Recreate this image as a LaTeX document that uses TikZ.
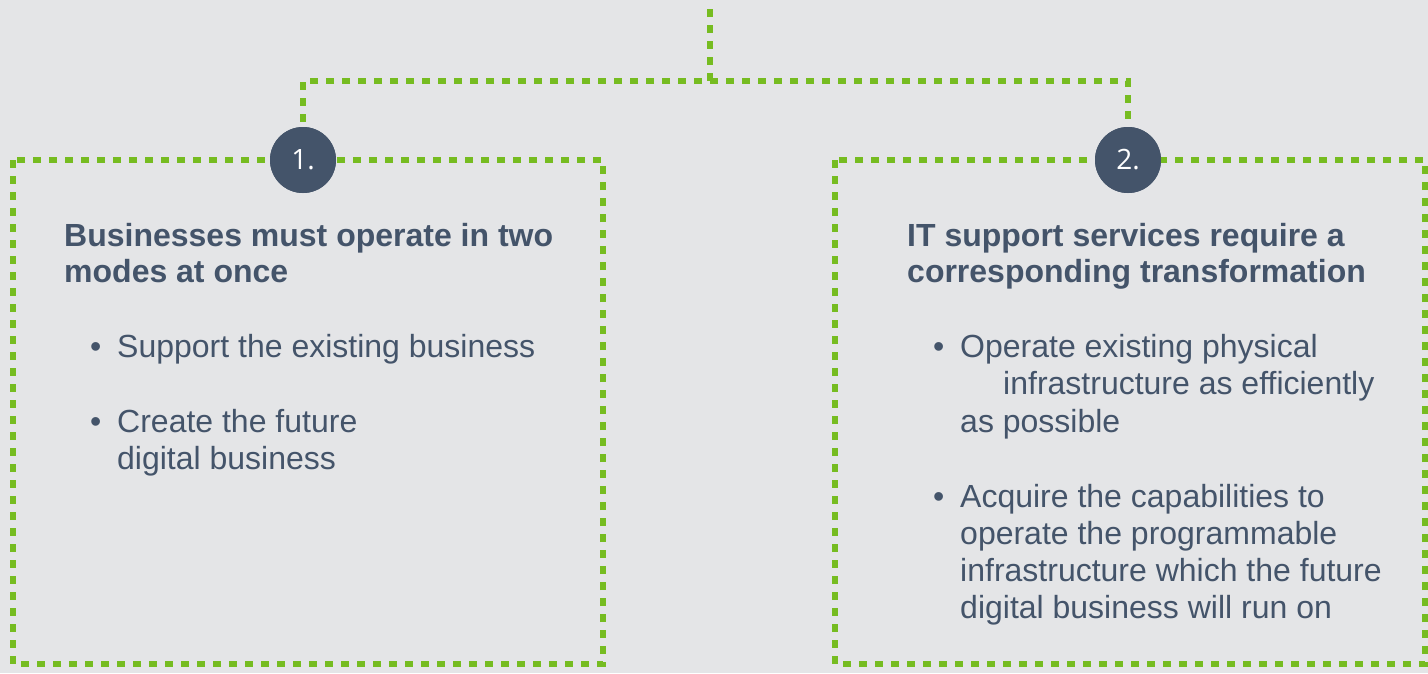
\documentclass[tikz,border=0pt]{standalone}
\usepackage{fontspec}
\setmainfont{Liberation Sans}
\newfontfamily\circfont{Open Sans}
\definecolor{bg}{RGB}{228,229,231}
\definecolor{grn}{RGB}{118,188,33}
\definecolor{slate}{RGB}{68,84,106}
\begin{document}
\begin{tikzpicture}[x=1pt,y=-1pt,
  greenline/.style={draw=grn,line width=5.5pt,dash pattern=on 8pt off 8pt},
  numcirc/.style={circle,fill=slate,minimum size=66pt,inner sep=0pt,text=white,font=\circfont\fontsize{28}{30}\selectfont},
  title/.style={anchor=base west,inner sep=0pt,text=slate,font=\bfseries\fontsize{32}{37}\selectfont},
  body/.style={anchor=base west,inner sep=0pt,text=slate,font=\fontsize{32}{37}\selectfont},
  bul/.style={anchor=base west,inner sep=0pt,text=slate,font=\fontsize{32}{37}\selectfont}]
\useasboundingbox[fill=bg] (0,0) rectangle (1428,673);
% boxes
\draw[greenline] (13,160) rectangle (603,664);
\draw[greenline] (835,160) rectangle (1425,664);
% connector coordinates
\coordinate (top) at (710,9);
\coordinate (junc) at (710,81);
% circles
\node[numcirc] (c1) at (303,160) {};
\node[numcirc] (c2) at (1128,160) {};
\draw[greenline] (top) -- (junc) -| (c1.north);
\draw[greenline] (junc) -| (c2.north);
\node[numcirc] at (c1) {1.};
\node[numcirc] at (c2) {2.};
% box 1 text
\node[title] (t1a) at (64,246) {Businesses must operate in two};
\node[title] (t1b) at (64,282) {modes at once};
\node[bul] (b1a) at (90,357) {•};
\node[body] (l1a) at (117,357) {Support the existing business};
\node[bul] (b1b) at (90,432) {•};
\node[body] (l1b) at (117,432) {Create the future};
\node[body] (l1c) at (117,469) {digital business};
% box 2 text
\node[title] (t2a) at (907,246) {IT support services require a};
\node[title] (t2b) at (907,282) {corresponding transformation};
\node[bul] (b2a) at (933,357) {•};
\node[body] (l2a) at (960,357) {Operate existing physical};
\node[body] (l2b) at (1003,394) {infrastructure as efficiently};
\node[body] (l2c) at (960,432) {as possible};
\node[bul] (b2b) at (933,507) {•};
\node[body] (l2d) at (960,507) {Acquire the capabilities to};
\node[body] (l2e) at (960,544) {operate the programmable};
\node[body] (l2f) at (960,581) {infrastructure which the future};
\node[body] (l2g) at (960,618) {digital business will run on};
\end{tikzpicture}
\end{document}
